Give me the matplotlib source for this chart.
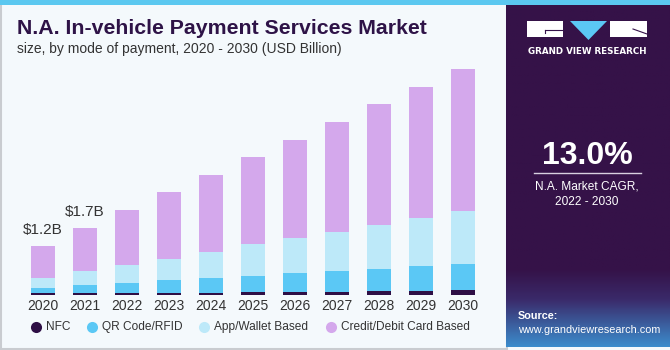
import numpy as np
import matplotlib
matplotlib.use("Agg")
import matplotlib.pyplot as plt
from matplotlib.patches import Rectangle, Polygon
from matplotlib.lines import Line2D

years = ["2020", "2021", "2022", "2023", "2024", "2025", "2026", "2027", "2028", "2029", "2030"]
nfc = [0.037, 0.044, 0.049, 0.056, 0.061, 0.069, 0.076, 0.083, 0.093, 0.103, 0.115]
qr_rfid = [0.142, 0.20, 0.252, 0.304, 0.355, 0.404, 0.456, 0.512, 0.551, 0.607, 0.652]
app_wallet = [0.245, 0.343, 0.434, 0.522, 0.63, 0.769, 0.865, 0.955, 1.063, 1.183, 1.284]
credit_debit = [0.777, 1.061, 1.347, 1.634, 1.894, 2.139, 2.40, 2.687, 2.964, 3.20, 3.478]
series_names = ["NFC", "QR Code/RFID", "App/Wallet Based", "Credit/Debit Card Based"]
series_colors = ["#2E0F45", "#5BC8F5", "#BDE9F9", "#D4A8EC"]
annot_labels = {0: "$1.2B", 1: "$1.7B"}

W, H = 670, 350
fig = plt.figure(figsize=(W / 100, H / 100), dpi=100)
fig.patch.set_facecolor("#F4F9FC")

def fx(px):
    return px / W

def fy(py):
    return 1 - py / H

# Outer gray border of left panel
fig.patches.append(Rectangle((0.001, 0.003), fx(506), 0.995, transform=fig.transFigure,
                             facecolor="#F4F9FC", edgecolor="#C9CCD0", lw=1.5, zorder=-10))
# top blue stripe
fig.patches.append(Rectangle((0, fy(4.5)), 1, 4.5 / H, transform=fig.transFigure,
                             facecolor="#5BC8F0", edgecolor="none", zorder=3))

# right dark panel with gradient at bottom
pax = fig.add_axes([fx(506), fy(347), fx(670 - 506), (347 - 4.5) / H])
pax.set_axis_off()
n = 300
grad = np.zeros((n, 1, 3))
top = np.array([0x35, 0x12, 0x48]) / 255
mid = np.array([0x3A, 0x2A, 0x6A]) / 255
bot = np.array([0x3C, 0x8C, 0xCC]) / 255
for i in range(n):
    ypx = 4.5 + (347 - 4.5) * i / (n - 1)
    if ypx < 270:
        c = top
    elif ypx < 300:
        t = (ypx - 270) / 30
        c = top * (1 - t) + mid * t
    else:
        t = (ypx - 300) / 47
        c = mid * (1 - t) + bot * t
    grad[i, 0] = c
pax.imshow(grad, aspect="auto", extent=[0, 1, 0, 1], origin="upper")
pax.set_xlim(0, 1)
pax.set_ylim(0, 1)

# Logo
fig.patches.append(Rectangle((fx(527), fy(37)), fx(563 - 527), 16 / H, transform=fig.transFigure,
                             facecolor="white", edgecolor="none", zorder=5))
fig.patches.append(Polygon([(fx(570), fy(21)), (fx(607), fy(21)), (fx(588.5), fy(40))],
                           closed=True, transform=fig.transFigure, facecolor="#5BC8F5",
                           edgecolor="none", zorder=5))
fig.patches.append(Rectangle((fx(610), fy(37)), fx(647 - 610), 16 / H, transform=fig.transFigure,
                             facecolor="white", edgecolor="none", zorder=5))
fig.lines.append(Line2D([fx(545), fx(563)], [fy(30), fy(30)], transform=fig.transFigure,
                        color="#35124A", lw=0.8, zorder=6))
fig.lines.append(Line2D([fx(545), fx(545)], [fy(30), fy(33)], transform=fig.transFigure,
                        color="#35124A", lw=0.8, zorder=6))
fig.lines.append(Line2D([fx(633), fx(647)], [fy(29), fy(34)], transform=fig.transFigure,
                        color="#35124A", lw=0.8, zorder=6))
fig.text(fx(587), fy(51.5), "GRAND VIEW RESEARCH", color="white", fontsize=6.3,
         fontweight="bold", ha="center", va="center", family="DejaVu Sans", zorder=6)

# CAGR
fig.text(fx(587), fy(156), "13.0%", color="white", fontsize=23, fontweight="bold",
         ha="center", va="center", family="Liberation Sans", zorder=6)
fig.lines.append(Line2D([fx(534), fx(641)], [fy(173), fy(173)], transform=fig.transFigure,
                        color="#D8D0E0", lw=1, zorder=6))
fig.text(fx(587), fy(186), "N.A. Market CAGR,", color="white", fontsize=8.6,
         ha="center", va="center", family="Liberation Sans", zorder=6)
fig.text(fx(587), fy(202), "2022 - 2030", color="white", fontsize=8.6,
         ha="center", va="center", family="Liberation Sans", zorder=6)
fig.text(fx(518), fy(316), "Source:", color="white", fontsize=7.8, fontweight="bold",
         ha="left", va="center", family="Liberation Sans", zorder=6)
fig.text(fx(518), fy(330), "www.grandviewresearch.com", color="white", fontsize=7.8,
         ha="left", va="center", family="Liberation Sans", zorder=6)

# Titles
fig.text(fx(17), fy(29), "N.A. In-vehicle Payment Services Market", color="#2E1347",
         fontsize=15.3, fontweight="bold", ha="left", va="center", family="Liberation Sans")
fig.text(fx(17), fy(49), "size, by mode of payment, 2020 - 2030 (USD Billion)", color="#333333",
         fontsize=10, ha="left", va="center", family="Liberation Sans")

# Main chart
ax = fig.add_axes([fx(20), fy(295), fx(470), 235 / H])
ax.set_facecolor("none")
x = np.arange(len(years))
bottom = np.zeros(len(years))
for vals, name, col in zip([nfc, qr_rfid, app_wallet, credit_debit], series_names, series_colors):
    ax.bar(x, vals, width=0.58, bottom=bottom, color=col, label=name, edgecolor="none")
    bottom = bottom + np.array(vals)
totals = bottom
for i, lab in annot_labels.items():
    ax.text(x[i], totals[i] + 0.22, lab, ha="center", va="bottom", fontsize=11,
            color="#333333", family="Liberation Sans")
ax.set_xlim(-0.548, 10.643)
ax.set_ylim(0, 5.755)
ax.set_xticks(x)
ax.set_xticklabels(years, fontsize=10, color="#333333", family="Liberation Sans")
ax.tick_params(axis="x", length=0, pad=3)
ax.set_yticks([])
for s in ax.spines.values():
    s.set_visible(False)

# Legend (manual placement)
marker_px = [36, 92, 204, 331]
for mx, name, col in zip(marker_px, series_names, series_colors):
    fig.lines.append(Line2D([fx(mx)], [fy(327)], transform=fig.transFigure, marker="o",
                            markersize=8, markerfacecolor=col, markeredgecolor="none",
                            linestyle="none", zorder=6))
    fig.text(fx(mx + 10), fy(327), name, color="#333333", fontsize=8.6, ha="left",
             va="center", family="Liberation Sans", zorder=6)

fig.savefig("out.png", dpi=100, facecolor=fig.get_facecolor())
